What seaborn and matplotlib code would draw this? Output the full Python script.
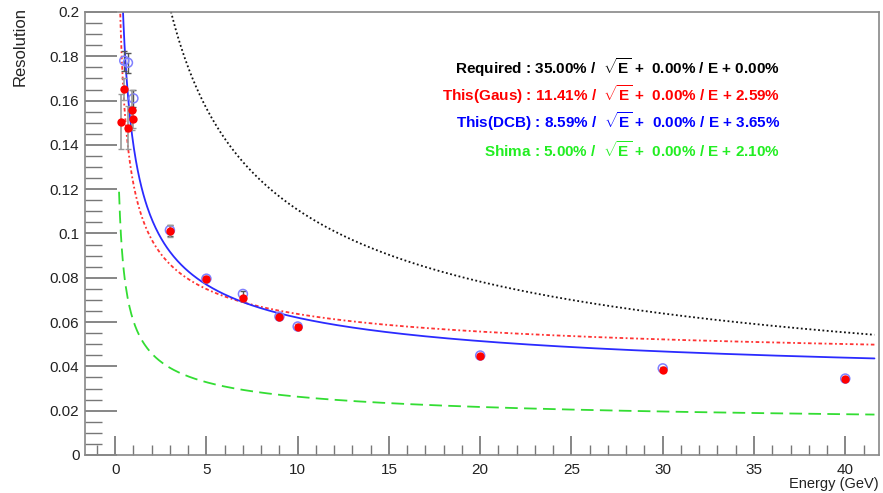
import matplotlib
matplotlib.use("Agg")
import matplotlib.pyplot as plt
import matplotlib.ticker as mticker
import numpy as np
import pandas as pd
import seaborn as sns

# measured points (red = Gaus fit, blue = DCB fit)
gaus_e = [0.3, 0.5, 0.7, 0.9, 1.0, 3, 5, 7, 9, 10, 20, 30, 40]
gaus_res = [0.1505, 0.1651, 0.1478, 0.1558, 0.1518, 0.1013, 0.0793, 0.0707,
            0.0622, 0.0577, 0.0447, 0.0384, 0.0343]
gaus_err = [0.0124, 0.0050, 0.0098, 0.0090, 0.0040, 0.0027, 0.0012, 0.0012,
            0.0010, 0.0010, 0.0008, 0.0008, 0.0008]

dcb_e = [0.5, 0.7, 1.0, 3, 5, 7, 9, 10, 20, 30, 40]
dcb_res = [0.1780, 0.1771, 0.1610, 0.1015, 0.0796, 0.0727, 0.0625, 0.0580,
           0.0449, 0.0391, 0.0345]
dcb_err = [0.0045, 0.0045, 0.0040, 0.0025, 0.0012, 0.0012, 0.0010, 0.0010,
           0.0008, 0.0008, 0.0008]

# curve parameters a/sqrt(E) + c, as drawn
curve_names = ["Required", "DCB curve", "Gaus curve", "Shima"]
curve_a = [0.35, 0.0859, 0.1141, 0.05]
curve_c = [0.0, 0.0365, 0.0259, 0.0105]
curve_start = [0.2, 0.2, 0.2, 0.213]
curve_colors = ["#111111", "#ff3333", "#2b2bff", "#33dd33"]
curve_styles = [(0, (1, 1.4)), (0, (1, 1.4, 2, 1.4)), "-", (0, (7, 3.5))]

legend_lines = [
    r"Required : 35.00% /  $\sqrt{\mathbf{E}}$ +  0.00% / E + 0.00%",
    r"This(Gaus) : 11.41% /  $\sqrt{\mathbf{E}}$ +  0.00% / E + 2.59%",
    r"This(DCB) : 8.59% /  $\sqrt{\mathbf{E}}$ +  0.00% / E + 3.65%",
    r"Shima : 5.00% /  $\sqrt{\mathbf{E}}$ +  0.00% / E + 2.10%",
]
legend_colors = ["black", "#ff0000", "#0000ff", "#22ee22"]

sns.set_theme(style="white")
plt.rcParams["font.family"] = ["Liberation Sans", "DejaVu Sans"]
plt.rcParams["mathtext.fontset"] = "custom"
plt.rcParams["mathtext.rm"] = "Liberation Sans:bold"
plt.rcParams["mathtext.bf"] = "Liberation Sans:bold"

fig = plt.figure(figsize=(8.83, 4.93), dpi=100)
ax = fig.add_axes([0.0963, 0.0771, 0.8992, 0.8986])

for name, a, c, e0, col, ls in zip(curve_names, curve_a, curve_c, curve_start,
                                   curve_colors, curve_styles):
    energy = np.linspace(e0, 41.6, 800)
    df = pd.DataFrame({"E": energy, "res": a / np.sqrt(energy) + c})
    sns.lineplot(data=df, x="E", y="res", ax=ax, color=col, linestyle=ls,
                 linewidth=1.3, sort=False, estimator=None)

ax.errorbar(dcb_e, dcb_res, yerr=dcb_err, fmt="none", ecolor="#555555",
            elinewidth=1, capsize=2, zorder=3)
sns.scatterplot(x=dcb_e, y=dcb_res, ax=ax, s=42, facecolor="none",
                edgecolor="#8080ff", linewidth=1.1, zorder=4)
ax.errorbar(gaus_e, gaus_res, yerr=gaus_err, fmt="none", ecolor="#999999",
            elinewidth=1.2, capsize=2, zorder=5)
sns.scatterplot(x=gaus_e, y=gaus_res, ax=ax, s=36, color="#ff0000",
                edgecolor="#ff0000", linewidth=0, zorder=6)

ax.set_xlim(-1.65, 41.85)
ax.set_ylim(0, 0.2)

ax.xaxis.set_major_locator(mticker.MultipleLocator(5))
ax.xaxis.set_minor_locator(mticker.MultipleLocator(1))
ax.yaxis.set_major_locator(mticker.MultipleLocator(0.02))
ax.yaxis.set_minor_locator(mticker.MultipleLocator(0.005))
ax.yaxis.set_major_formatter(mticker.FuncFormatter(lambda v, p: f"{v:g}"))

ax.tick_params(axis="both", which="both", direction="in", color="#777777",
               top=False, right=False, bottom=True, left=True,
               labelsize=11, labelcolor="#222222")
ax.tick_params(axis="x", which="major", length=14, pad=6)
ax.tick_params(axis="x", which="minor", length=7)
ax.tick_params(axis="y", which="major", length=23, pad=4)
ax.tick_params(axis="y", which="minor", length=12)

for sp in ax.spines.values():
    sp.set_color("#888888")
    sp.set_linewidth(1.2)

ax.set_xlabel("")
ax.set_ylabel("")
fig.text(0.9945, 0.005, "Energy (GeV)", ha="right", va="bottom", fontsize=10.5,
         color="#222222")
fig.text(0.014, 0.985, "Resolution", ha="left", va="top", rotation=90,
         fontsize=12, color="#222222")

legend_y = [68, 95, 122, 150]
for txt, col, yp in zip(legend_lines, legend_colors, legend_y):
    fig.text(780 / 883, 1 - yp / 493, txt, ha="right", va="center",
             fontsize=11, fontweight="bold", color=col)

fig.savefig("out.png", dpi=100)
